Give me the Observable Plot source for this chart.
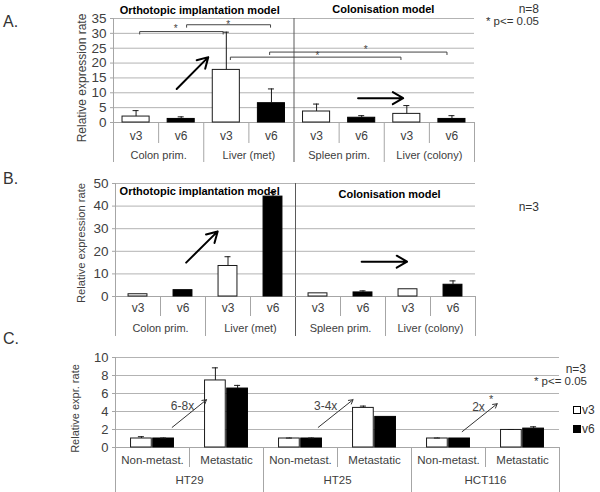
<!DOCTYPE html>
<html><head><meta charset="utf-8">
<script src="https://cdn.jsdelivr.net/npm/d3@7"></script>
<script src="https://cdn.jsdelivr.net/npm/@observablehq/plot@0.6"></script>
<style>
body{margin:0;background:#fff;}
#root{position:relative;width:600px;height:492px;overflow:hidden;font-family:"Liberation Sans",Arial,sans-serif;color:#333;background:#fff;}
.panel{position:absolute;left:0;}
.ann{position:absolute;line-height:1;white-space:nowrap;transform:translateY(-50%);}
.sq{display:inline-block;width:6px;height:6px;border:1px solid #000;margin-right:1px;vertical-align:0px;}
</style></head><body><div id="root"></div><script>
// ---- data ----
const variants = ["v3", "v6"];
const groupsA = ["Colon prim.", "Liver (met)", "Spleen prim.", "Liver (colony)"];
const valuesA = [2.0, 1.2, 17.7, 6.5, 3.7, 1.6, 2.9, 1.2];
const errorsA = [4.0, 1.9, 30.4, 11.3, 6.2, 2.3, 5.7, 2.3];
const yTicksA = [0, 5, 10, 15, 20, 25, 30, 35];
const groupsB = ["Colon prim.", "Liver (met)", "Spleen prim.", "Liver (colony)"];
const valuesB = [1.0, 2.8, 13.5, 44.2, 1.4, 1.8, 3.2, 5.2];
const errorsB = [null, null, 17.6, 46.0, null, 2.5, null, 6.9];
const yTicksB = [0, 10, 20, 30, 40, 50];
const cellLines = ["HT29", "HT25", "HCT116"];
const statuses = ["Non-metast.", "Metastatic"];
const v3C = [1.0, 7.45, 1.0, 4.4, 1.0, 1.95];
const v3ErrC = [1.2, 8.85, 1.05, 4.6, 1.05, 2.0];
const v6C = [1.0, 6.55, 1.0, 3.4, 1.0, 2.1];
const v6ErrC = [1.05, 6.9, 1.05, null, null, 2.3];
const yTicksC = [0, 2, 4, 6, 8, 10];
const modelTitles = ["Orthotopic implantation model", "Colonisation model"];

// ---- annotations (data units) ----
const titlePosA = [{x: 1.91, y: 37.7}, {x: 5.98, y: 38.0}];
const titlePosB = [{x: 1.87, y: 46.5}, {x: 6.09, y: 45.0}];
const bracketsA = [
  {x1: 0.58, x2: 2.43, y: 30.6},
  {x1: 1.62, x2: 3.48, y: 32.9},
  {x1: 2.59, x2: 6.37, y: 22.0},
  {x1: 3.46, x2: 7.39, y: 23.7}
];
const starsA = [{x: 1.38, y: 32.4}, {x: 2.54, y: 33.8}, {x: 4.52, y: 23.4}, {x: 5.59, y: 25.3}];
const arrowsA = [{x1: 1.40, y1: 11.3, x2: 2.10, y2: 22.0}, {x1: 5.42, y1: 8.2, x2: 6.42, y2: 8.2}];
const arrowsB = [{x1: 1.57, y1: 15.0, x2: 2.27, y2: 28.8}, {x1: 5.47, y1: 15.4, x2: 6.48, y2: 15.4}];
const arrowsC = [
  {x1: 0.766, y1: 2.24, x2: 1.23, y2: 5.31},
  {x1: 2.74, y1: 2.24, x2: 3.21, y2: 5.31},
  {x1: 4.685, y1: 1.76, x2: 5.158, y2: 4.86}
];
const foldLabelsC = [{t: "6-8x", x: 0.905, y: 4.56}, {t: "3-4x", x: 2.84, y: 4.56}, {t: "2x", x: 4.905, y: 4.48}];
const starsC = [{x: 5.077, y: 5.6}];

const FONT = "Liberation Sans, Arial, sans-serif";
const gridC = "#b3b3b3", axisC = "#a6a6a6", textC = "#404040", divC = "#5a5a5a", barC = "#1a1a1a";

function modelPanel(o) {
  const bars = o.values.map((v, i) => ({i, v, e: o.errors[i], variant: variants[i % 2]}));
  const withErr = bars.filter(d => d.e != null);
  const yMax = o.yTicks[o.yTicks.length - 1];
  const pxX = (600 - o.ml - o.mr) / 8;
  const pxY = (o.height - o.mt - o.mb) / yMax;
  const cap = 3 / pxX, tick = 2.5 / pxY;
  const pts = (o.brackets || []).flatMap((b, k) => [
    {k, x: b.x1, y: b.y - tick}, {k, x: b.x1, y: b.y}, {k, x: b.x2, y: b.y}, {k, x: b.x2, y: b.y - tick}]);
  return Plot.plot({
    width: 600, height: o.height,
    marginTop: o.mt, marginBottom: o.mb, marginLeft: o.ml, marginRight: o.mr,
    x: {domain: [0, 8]}, y: {domain: [0, yMax]},
    style: {fontFamily: FONT, background: "transparent", overflow: "visible"},
    marks: [
      Plot.ruleY(o.yTicks.filter(t => t > 0), {stroke: gridC}),
      Plot.ruleX([0], {y1: 0, y2: yMax, stroke: axisC}),
      Plot.ruleX([4], {y1: 0, y2: yMax, stroke: divC}),
      Plot.axisY({ticks: o.yTicks, tickSize: 3, tickPadding: 4, stroke: axisC, fill: textC, fontSize: o.tickFont, label: null}),
      Plot.axisX({ticks: [1, 3, 5, 7], tickSize: o.halfLen, stroke: axisC, fill: "none", label: null}),
      Plot.axisX({ticks: [0, 2, 6, 8], tickSize: o.fullLen, stroke: axisC, fill: "none", label: null}),
      Plot.axisX({ticks: [4], tickSize: o.fullLen, stroke: divC, fill: "none", label: null}),
      Plot.ruleY([0], {stroke: axisC}),
      Plot.rect(bars.filter(d => d.variant === "v3"), {x1: d => d.i + 0.5 - o.bw / 2, x2: d => d.i + 0.5 + o.bw / 2, y1: 0, y2: d => d.v, fill: "white", stroke: barC}),
      Plot.rect(bars.filter(d => d.variant === "v6"), {x1: d => d.i + 0.5 - o.bw / 2, x2: d => d.i + 0.5 + o.bw / 2, y1: 0, y2: d => d.v, fill: "black", stroke: "black"}),
      Plot.ruleX(withErr, {x: d => d.i + 0.5, y1: d => d.v, y2: d => d.e, stroke: barC}),
      Plot.ruleY(withErr, {y: d => d.e, x1: d => d.i + 0.5 - cap, x2: d => d.i + 0.5 + cap, stroke: barC}),
      Plot.text(bars, {x: d => d.i + 0.5, y: 0, dy: o.rowDy, text: "variant", fontSize: 12, fill: textC}),
      Plot.text(o.groups, {x: (d, i) => 2 * i + 1, y: 0, dy: o.groupDy, text: d => d, fontSize: 11, fill: textC}),
      Plot.text(modelTitles, {x: (d, i) => o.titlePos[i].x, y: (d, i) => o.titlePos[i].y, text: d => d, fontWeight: "bold", fontSize: 11, fill: "black"}),
      Plot.line(pts, {x: "x", y: "y", z: "k", stroke: "#444", strokeWidth: 1}),
      Plot.text(o.stars || [], {x: "x", y: "y", text: () => "*", dy: 2.5, fontSize: 10, fill: "#444"}),
      Plot.arrow(o.arrows, {x1: "x1", y1: "y1", x2: "x2", y2: "y2", stroke: "black", strokeWidth: 2, headLength: 9}),
      Plot.text([o.ylabel], {frameAnchor: "left", textAnchor: "middle", lineAnchor: "middle", rotate: -90, dx: o.ylDx, dy: o.ylDy, text: d => d, fontSize: o.ylFont, fill: textC})
    ]
  });
}

function cellPanel() {
  const bars = v3C.map((v, i) => ({i, v3: v, e3: v3ErrC[i], v6: v6C[i], e6: v6ErrC[i], status: statuses[i % 2]}));
  const e3 = bars.filter(d => d.e3 != null), e6 = bars.filter(d => d.e6 != null);
  const height = 152, mt = 17, mb = 45, ml = 115, mr = 41;
  const pxX = (600 - ml - mr) / 6;
  const cap = 3 / pxX;
  return Plot.plot({
    width: 600, height, marginTop: mt, marginBottom: mb, marginLeft: ml, marginRight: mr,
    x: {domain: [0, 6]}, y: {domain: [0, 10]},
    style: {fontFamily: FONT, background: "transparent", overflow: "visible"},
    marks: [
      Plot.ruleY(yTicksC.filter(t => t > 0), {stroke: gridC}),
      Plot.ruleX([0], {y1: 0, y2: 10, stroke: axisC}),
      Plot.axisY({ticks: yTicksC, tickSize: 3, tickPadding: 4, stroke: axisC, fill: textC, fontSize: 13, label: null}),
      Plot.axisX({ticks: [1, 3, 5], tickSize: 20, stroke: axisC, fill: "none", label: null}),
      Plot.axisX({ticks: [0, 2, 4, 6], tickSize: 45, stroke: axisC, fill: "none", label: null}),
      Plot.ruleY([0], {stroke: axisC}),
      Plot.rect(bars, {x1: d => d.i + 0.21, x2: d => d.i + 0.49, y1: 0, y2: "v3", fill: "white", stroke: barC}),
      Plot.rect(bars, {x1: d => d.i + 0.51, x2: d => d.i + 0.79, y1: 0, y2: "v6", fill: "black", stroke: "black"}),
      Plot.ruleX(e3, {x: d => d.i + 0.35, y1: "v3", y2: "e3", stroke: barC}),
      Plot.ruleY(e3, {y: "e3", x1: d => d.i + 0.35 - cap, x2: d => d.i + 0.35 + cap, stroke: barC}),
      Plot.ruleX(e6, {x: d => d.i + 0.65, y1: "v6", y2: "e6", stroke: barC}),
      Plot.ruleY(e6, {y: "e6", x1: d => d.i + 0.65 - cap, x2: d => d.i + 0.65 + cap, stroke: barC}),
      Plot.text(bars, {x: d => d.i + 0.5, y: 0, dy: 13, text: "status", fontSize: 11.5, fill: textC}),
      Plot.text(cellLines, {x: (d, i) => 2 * i + 1, y: 0, dy: 33, text: d => d, fontSize: 11.5, fill: textC}),
      Plot.arrow(arrowsC, {x1: "x1", y1: "y1", x2: "x2", y2: "y2", stroke: "#333", strokeWidth: 1, headLength: 7}),
      Plot.text(foldLabelsC, {x: "x", y: "y", text: "t", fontSize: 12, fill: "#444"}),
      Plot.text(starsC, {x: "x", y: "y", text: () => "*", dy: 2.5, fontSize: 11, fill: "#444"}),
      Plot.text(["Relative expr. rate"], {frameAnchor: "left", textAnchor: "middle", lineAnchor: "middle", rotate: -90, dx: -40, dy: 6, text: d => d, fontSize: 11, fill: textC})
    ]
  });
}

const root = document.getElementById("root");
function addPanel(el, top) {
  const w = document.createElement("div"); w.className = "panel"; w.style.top = top + "px";
  w.appendChild(el); root.appendChild(w);
}
addPanel(modelPanel({
  values: valuesA, errors: errorsA, groups: groupsA, yTicks: yTicksA,
  height: 168, mt: 18, mb: 46, ml: 113, mr: 126, bw: 0.6, tickFont: 13.5,
  halfLen: 21, fullLen: 40, rowDy: 14, groupDy: 33,
  titlePos: titlePosA, brackets: bracketsA, stars: starsA, arrows: arrowsA,
  ylabel: "Relative expression rate", ylDx: -31.5, ylDy: 7.5, ylFont: 12
}), 0);
addPanel(modelPanel({
  values: valuesB, errors: errorsB, groups: groupsB, yTicks: yTicksB,
  height: 170, mt: 13, mb: 44, ml: 115, mr: 125, bw: 0.42, tickFont: 13.5,
  halfLen: 20, fullLen: 40, rowDy: 12, groupDy: 32,
  titlePos: titlePosB, brackets: [], stars: [], arrows: arrowsB,
  ylabel: "Relative expression rate", ylDx: -34, ylDy: 3, ylFont: 11.2
}), 170);
addPanel(cellPanel(), 340);

function ann(html, o) {
  const d = document.createElement("div"); d.className = "ann"; d.innerHTML = html;
  if (o.left != null) d.style.left = o.left + "px";
  if (o.right != null) d.style.right = (600 - o.right) + "px";
  d.style.top = o.cy + "px"; d.style.fontSize = o.size + "px";
  d.style.color = o.color || "#333";
  root.appendChild(d);
}
ann("A.", {left: 3, cy: 21.7, size: 16});
ann("B.", {left: 3, cy: 179, size: 16});
ann("C.", {left: 3, cy: 339, size: 16});
ann("n=8", {right: 539, cy: 9, size: 12});
ann("* p&lt;= 0.05", {right: 539, cy: 22, size: 11.5});
ann("n=3", {right: 539, cy: 206.7, size: 12});
ann("n=3", {right: 586, cy: 369, size: 12});
ann("* p&lt;= 0.05", {right: 587, cy: 381.7, size: 11.5});
ann('<span class="sq" style="background:#fff"></span>' + variants[0], {left: 573, cy: 410, size: 12});
ann('<span class="sq" style="background:#000"></span>' + variants[1], {left: 573, cy: 429.3, size: 12});
</script></body></html>
